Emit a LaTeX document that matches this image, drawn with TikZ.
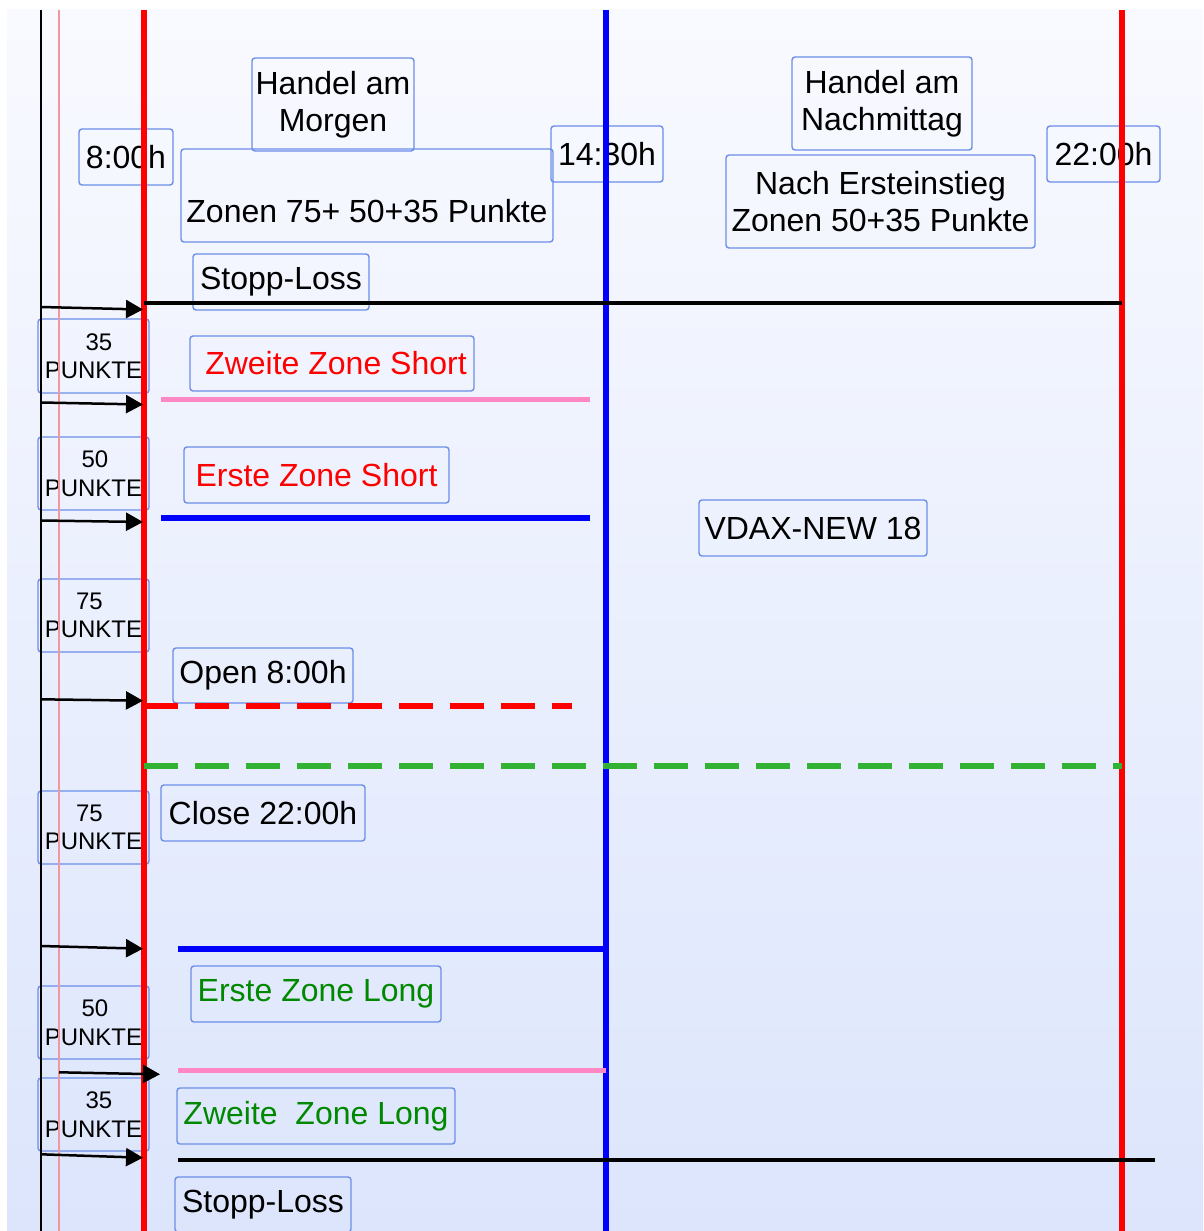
\documentclass[tikz,border=0pt]{standalone}
\usepackage{fontspec}
\setmainfont{Liberation Sans}
\usetikzlibrary{arrows.meta}
\definecolor{boxblue}{RGB}{108,142,232}
\definecolor{bgtop}{RGB}{249,250,255}
\definecolor{bgbot}{RGB}{220,229,252}
\definecolor{pinkthin}{RGB}{242,150,160}
\definecolor{pinkline}{RGB}{255,136,196}
\definecolor{dashgreen}{RGB}{50,178,50}
\definecolor{txtgreen}{RGB}{0,136,0}
\definecolor{pureblue}{RGB}{0,0,255}
\definecolor{purered}{RGB}{255,0,0}
\begin{document}
\begin{tikzpicture}[x=1pt,y=-1pt,
  lbl/.style={draw=boxblue, line width=1.4pt, rounded corners=3pt, inner sep=0pt,
    align=center, font=\fontsize{32}{37}\selectfont},
  pbox/.style={lbl, minimum width=111pt, minimum height=73pt,
    font=\fontsize{24}{28.5}\selectfont},
  vline/.style={line width=5.5pt},
  hline/.style={line width=5pt},
  dashline/.style={line width=5.5pt, dash pattern=on 34pt off 17pt},
  arr/.style={line width=2.5pt, -{Triangle[length=17pt,width=18pt]}}]
\useasboundingbox (0,0) rectangle (1203,1231);
\fill[white] (0,0) rectangle (1203,1231);
\shade[top color=bgtop, bottom color=bgbot] (7,10) rectangle (1203,1231);

% label boxes
\node[lbl, minimum width=94pt, minimum height=56pt] (t800) at (126,157) {8:00h};
\node[lbl, minimum width=162pt, minimum height=93pt] (morgen) at (333,104.5) {Handel am\\Morgen};
\node[lbl, minimum width=372pt, minimum height=93pt] (zonenA) at (367,195.5) {\strut\\[-8pt]Zonen 75+ 50+35 Punkte};
\node[lbl, minimum width=112pt, minimum height=56pt] (t1430) at (607,154) {14:30h};
\node[lbl, minimum width=180pt, minimum height=93pt] (nachm) at (882,103.5) {Handel am\\Nachmittag};
\node[lbl, minimum width=309pt, minimum height=93pt] (zonenB) at (880.5,201.5) {Nach Ersteinstieg\\Zonen 50+35 Punkte};
\node[lbl, minimum width=113pt, minimum height=56pt] (t2200) at (1103.5,154) {22:00h};
\node[lbl, minimum width=176pt, minimum height=56pt] (slTop) at (281,282) {Stopp-Loss};
\node[pbox, minimum height=74pt] (p35a) at (93.5,356) {\hspace*{11pt}35\\PUNKTE};
\node[lbl, minimum width=284pt, minimum height=55pt, text=purered] (zzs) at (332,363.5) {\hspace*{8pt}Zweite Zone Short};
\node[pbox] (p50a) at (93.5,473.5) {\hspace*{3pt}50\\PUNKTE};
\node[lbl, minimum width=265pt, minimum height=56pt, text=purered] (ezs) at (316.5,475) {Erste Zone Short};
\node[lbl, minimum width=228pt, minimum height=56pt] (vdax) at (813,528) {VDAX-NEW 18};
\node[pbox] (p75a) at (93.5,615.5) {75\hspace*{8pt}\\PUNKTE};
\node[lbl, minimum width=180pt, minimum height=55pt] (open) at (263,675.5) {Open 8:00h};
\node[pbox] (p75b) at (93.5,827.5) {75\hspace*{8pt}\\PUNKTE};
\node[lbl, minimum width=204pt, minimum height=56pt] (close) at (263,813) {Close 22:00h};
\node[lbl, minimum width=250pt, minimum height=56pt, text=txtgreen] (ezl) at (316,994) {Erste Zone Long};
\node[pbox] (p50b) at (93.5,1022.5) {\hspace*{3pt}50\\PUNKTE};
\node[pbox] (p35b) at (93.5,1114.5) {\hspace*{11pt}35\\PUNKTE};
\node[lbl, minimum width=278pt, minimum height=56pt, text=txtgreen] (zzl) at (316,1116) {Zweite\ \ Zone Long};
\node[lbl, minimum width=176pt, minimum height=55pt] (slBot) at (263,1204.5) {Stopp-Loss};

% vertical lines
\draw[black, line width=1.6pt] (41,10) -- (41,1231);
\draw[pinkthin, line width=1.4pt] (59,10) -- (59,1231);
\draw[purered, vline, line width=6pt] (144,10) -- (144,1231);
\draw[pureblue, vline] (606,10) -- (606,1231);
\draw[purered, vline] (1122,10) -- (1122,1231);

% horizontal lines
\draw[black, line width=4.5pt] (144,303) -- (1122,303);
\draw[pinkline, hline] (161,399) -- (590,399);
\draw[pureblue, hline, line width=5.5pt] (161,518) -- (590,518);
\draw[purered, dashline] (144,706) -- (572,706);
\draw[dashgreen, dashline] (144,766) -- (1122,766);
\draw[pureblue, hline, line width=5.5pt] (178,949) -- (606,949);
\draw[pinkline, hline] (178,1070) -- (606,1070);
\draw[black, line width=4.5pt] (178,1160) -- (1155,1160);

% arrows
\coordinate (a1s) at (41,307);    \coordinate (a1e) at (143,309.5);
\coordinate (a2s) at (41,402.5);  \coordinate (a2e) at (143,404.5);
\coordinate (a3s) at (41,520.5);  \coordinate (a3e) at (143,522);
\coordinate (a4s) at (41,699.3);  \coordinate (a4e) at (143,700.7);
\coordinate (a5s) at (41,946);    \coordinate (a5e) at (143,948.7);
\coordinate (a6s) at (59,1072.3); \coordinate (a6e) at (160,1074.3);
\coordinate (a7s) at (41,1154.3); \coordinate (a7e) at (143,1157.7);
\foreach \i in {1,...,7} { \draw[arr] (a\i s) -- (a\i e); }
\end{tikzpicture}
\end{document}
